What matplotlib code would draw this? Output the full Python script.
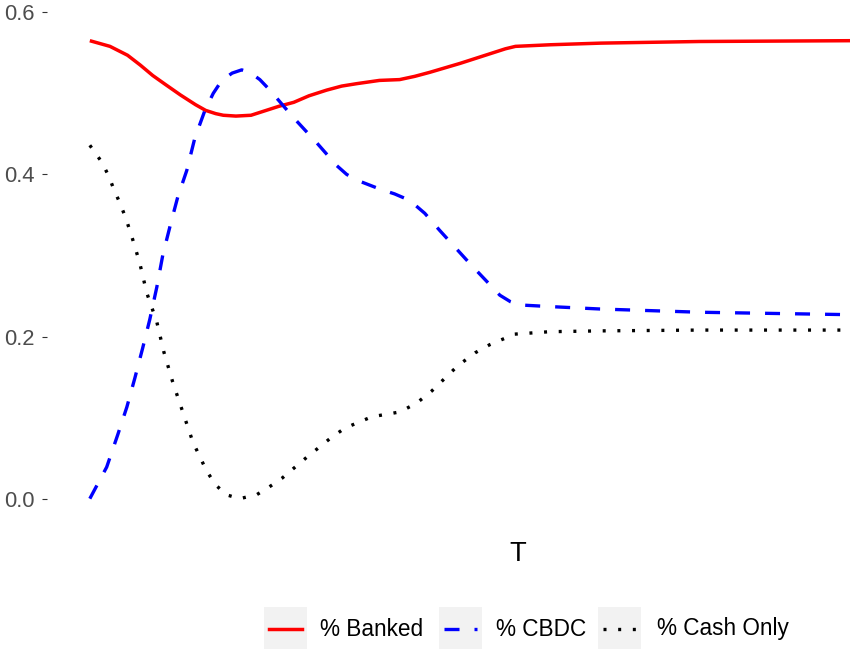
import matplotlib
matplotlib.use("Agg")
import matplotlib.pyplot as plt
from matplotlib.patches import Rectangle
from matplotlib.lines import Line2D

# ---- data ----
t_banked = [0, 0.8, 1.5, 2.0, 2.5, 3.0, 3.6, 4.2, 4.6, 5.0, 5.3, 5.8, 6.4, 7.0,
            7.5, 8.1, 8.7, 9.4, 10.0, 10.6, 11.5, 12.3, 12.9, 13.5, 14.7, 15.9,
            16.5, 16.9, 18.3, 20.3, 24.2, 30.2, 34]
banked = [0.565, 0.558, 0.547, 0.535, 0.522, 0.511, 0.498, 0.486, 0.479, 0.475,
          0.473, 0.472, 0.473, 0.479, 0.484, 0.489, 0.497, 0.504, 0.509, 0.512,
          0.516, 0.517, 0.521, 0.526, 0.537, 0.549, 0.555, 0.558, 0.560, 0.562,
          0.564, 0.565, 0.565]

t_cbdc = [0, 0.67, 1.11, 1.47, 1.79, 2.10, 2.38, 2.66, 2.90, 3.20, 3.49, 3.85,
          4.17, 4.57, 4.90, 5.24, 5.65, 6.03, 6.35, 6.75, 7.15, 8.06, 9.01, 9.80,
          10.20, 10.60, 11.51, 12.10, 12.70, 13.30, 13.89, 15.09, 16.28, 16.70,
          17.07, 18.26, 20.25, 24.22, 30.17, 34]
cbdc = [0, 0.039, 0.079, 0.113, 0.149, 0.186, 0.221, 0.261, 0.301, 0.338, 0.372,
        0.405, 0.445, 0.479, 0.500, 0.516, 0.525, 0.529, 0.526, 0.517, 0.504,
        0.471, 0.439, 0.411, 0.400, 0.393, 0.382, 0.376, 0.368, 0.352, 0.331,
        0.290, 0.251, 0.243, 0.239, 0.237, 0.234, 0.230, 0.227, 0.226]

t_cash = [0, 0.48, 0.75, 0.95, 1.19, 1.43, 1.70, 1.98, 2.26, 2.66, 2.94, 3.29,
          3.69, 4.09, 4.64, 5.00, 5.40, 5.95, 6.63, 7.10, 7.62, 8.61, 9.53, 10.12,
          11.19, 12.31, 12.98, 13.58, 14.61, 15.30, 15.88, 16.87, 18.26, 20.25,
          24.22, 30.17, 34]
cash = [0.436, 0.415, 0.398, 0.382, 0.365, 0.346, 0.320, 0.291, 0.254, 0.218,
        0.181, 0.144, 0.107, 0.070, 0.034, 0.017, 0.005, 0.0, 0.005, 0.014, 0.025,
        0.051, 0.074, 0.087, 0.101, 0.107, 0.118, 0.133, 0.164, 0.180, 0.190,
        0.203, 0.206, 0.207, 0.208, 0.208, 0.208]

series_labels = ["% Banked", "% CBDC", "% Cash Only"]
y_ticks = [0.0, 0.2, 0.4, 0.6]
y_tick_labels = ["0.0", "0.2", "0.4", "0.6"]
x_label = "T"

# ---- styling ----
plt.rcParams['font.family'] = ['Liberation Sans', 'DejaVu Sans']
W, H = 850, 649
fig = plt.figure(figsize=(8.5, 6.49), dpi=100)
fig.patch.set_facecolor("white")

# panel extends beyond right and top edges (reference is cropped)
left_px, right_px, top_px, bottom_px = 47, 989, -12, 523
ax = fig.add_axes([left_px / W, (H - bottom_px) / H,
                   (right_px - left_px) / W, (bottom_px - top_px) / H])
ax.set_facecolor("white")

styles = [
    dict(color="#FF0000", lw=2.5, linestyle="-"),
    dict(color="#0000FF", lw=2.4, linestyle=(0, (4.5, 4.5))),
    dict(color="#000000", lw=2.4, linestyle=(0, (0.9, 3.5))),
]
for (tx, ys), st in zip([(t_banked, banked), (t_cbdc, cbdc), (t_cash, cash)], styles):
    ax.plot(tx, ys, solid_capstyle="butt", dash_capstyle="butt",
            solid_joinstyle="round", dash_joinstyle="round", **st)

ax.set_xlim(-1.7, 35.7)
ax.set_ylim(-0.03, 0.63)
ax.set_yticks(y_ticks)
ax.set_yticklabels(y_tick_labels)
ax.set_xticks([])
for s in ax.spines.values():
    s.set_visible(False)
ax.tick_params(axis="y", length=3.6, width=0.8, color="#333333",
               labelcolor="#4D4D4D", labelsize=15.8, pad=5)
ax.set_xlabel(x_label, fontsize=19.8, color="black", labelpad=13)

# ---- legend (bottom, ggplot-like keys) ----
def fx(px):
    return px / W

def fy(py):
    return 1 - py / H

key_x = [264, 439, 598]
text_x = [320, 496, 657]
key_top, key_size = 607, 43
yc = 629
for kx, tx, lab, st in zip(key_x, text_x, series_labels, styles):
    fig.add_artist(Rectangle((fx(kx), fy(key_top + key_size)), key_size / W, key_size / H,
                             transform=fig.transFigure, facecolor="#F2F2F2",
                             edgecolor="none"))
    fig.add_artist(Line2D([fx(kx + 5), fx(kx + key_size - 5)], [fy(yc), fy(yc)],
                          transform=fig.transFigure, dash_capstyle="butt", **st))
    fig.text(fx(tx), fy(yc), lab, fontsize=16.3, color="black",
             ha="left", va="center")

fig.savefig("out.png", dpi=100)
